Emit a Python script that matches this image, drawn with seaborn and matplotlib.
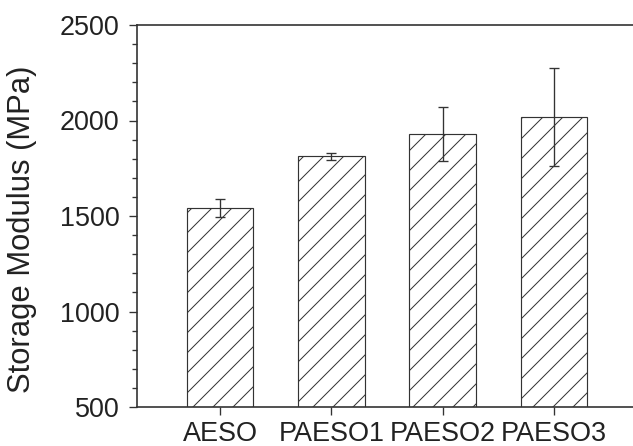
import matplotlib
matplotlib.use("Agg")
import matplotlib.pyplot as plt
from matplotlib.ticker import MultipleLocator
import seaborn as sns
import pandas as pd

categories = ["AESO", "PAESO1", "PAESO2", "PAESO3"]
modulus = [1540, 1812, 1930, 2020]
errors = [47, 19, 140, 256]

sns.set_style("ticks")
plt.rcParams["font.family"] = ["Liberation Sans", "DejaVu Sans"]
plt.rcParams["hatch.linewidth"] = 0.6
plt.rcParams["hatch.color"] = "#333333"

DPI = 120
fig = plt.figure(figsize=(633 / DPI, 446 / DPI), dpi=DPI)
ax = fig.add_axes([137 / 633, 1 - 407 / 446, 1 - 137 / 633, (407 - 25) / 446])

df = pd.DataFrame({"cat": categories, "val": modulus})
sns.barplot(data=df, x="cat", y="val", ax=ax, color="white", width=0.6,
            edgecolor="#333333", linewidth=0.7, hatch="//", errorbar=None,
            saturation=1)
for p in ax.patches:
    p.set_facecolor("white")
    p.set_hatch("//")

ax.errorbar(range(len(categories)), modulus, yerr=errors, fmt="none",
            ecolor="#333333", elinewidth=0.8, capsize=2.8, capthick=0.8)

ax.set_ylim(500, 2500)
ax.set_xlim(-0.746, 3.71)
ax.yaxis.set_major_locator(MultipleLocator(500))
ax.yaxis.set_minor_locator(MultipleLocator(100))

for s in ["left", "top", "bottom"]:
    ax.spines[s].set_visible(True)
    ax.spines[s].set_linewidth(1.0)
    ax.spines[s].set_color("#333333")
ax.spines["right"].set_visible(False)

ax.tick_params(axis="y", which="major", direction="out", length=5, width=0.8,
               color="#333333", labelsize=16.2, labelcolor="#222222", pad=5.4)
ax.tick_params(axis="y", which="minor", direction="out", length=3, width=0.8,
               color="#333333")
ax.tick_params(axis="x", which="major", direction="out", length=5, width=0.8,
               color="#333333", labelsize=16.2, labelcolor="#222222", pad=3.2)
ax.tick_params(top=False, right=False)

ax.set_xlabel("")
ax.set_ylabel("Storage Modulus (MPa)", fontsize=18.6, color="#222222")
ax.yaxis.set_label_coords(-0.2016, 0.466)

fig.savefig("out.png", dpi=DPI)
